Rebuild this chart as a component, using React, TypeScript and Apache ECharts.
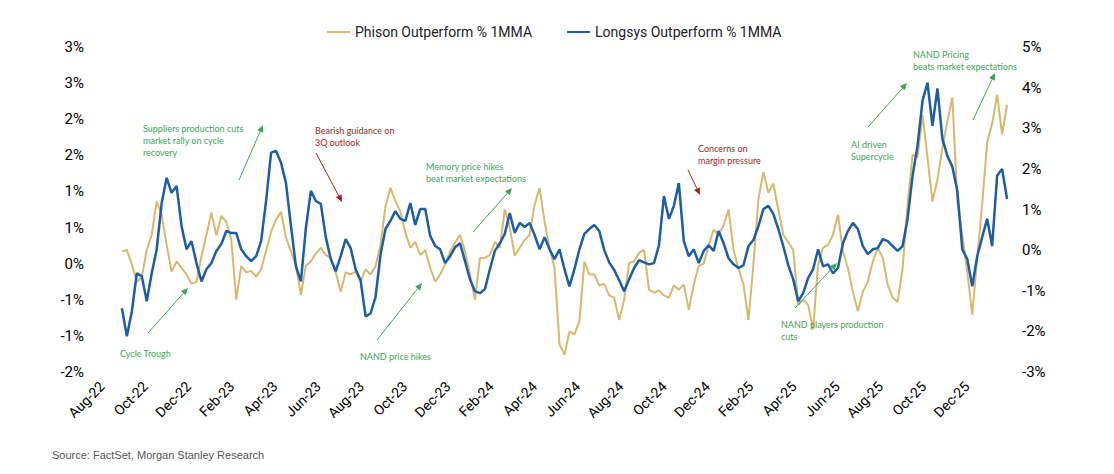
import React, { useEffect, useRef } from "react";
import * as echarts from "echarts";

// Weekly observations, first week = 4 weeks after 1 Aug 2022
const FIRST_WEEK = 4;

const X_TICK_LABELS = [
  "Aug-22", "Oct-22", "Dec-22", "Feb-23", "Apr-23", "Jun-23", "Aug-23", "Oct-23",
  "Dec-23", "Feb-24", "Apr-24", "Jun-24", "Aug-24", "Oct-24", "Dec-24", "Feb-25",
  "Apr-25", "Jun-25", "Aug-25", "Oct-25", "Dec-25",
];

const SERIES_NAMES = ["Phison Outperform % 1MMA", "Longsys Outperform % 1MMA"];

// Phison (left axis, %)
const PHISON = [
  0.17, 0.19, -0.01, -0.25, -0.19, 0.19, 0.40, 0.86, 0.68, 0.26,
  -0.11, 0.03, -0.06, -0.15, -0.28, -0.25, 0.10, 0.40, 0.71, 0.39,
  0.66, 0.58, 0.33, -0.50, -0.03, -0.12, -0.10, -0.18, -0.08, 0.18,
  0.44, 0.61, 0.72, 0.36, 0.17, -0.03, -0.43, -0.03, 0.03, 0.14,
  0.22, 0.12, 0.08, -0.12, -0.39, -0.12, -0.15, -0.11, -0.25, -0.08,
  -0.15, -0.04, 0.26, 0.79, 1.05, 0.87, 0.72, 0.43, 0.22, 0.30,
  0.12, 0.19, -0.06, -0.25, -0.15, -0.01, 0.17, 0.29, 0.40, 0.17,
  -0.15, -0.50, 0.08, 0.08, 0.12, 0.30, 0.22, 0.75, 0.50, 0.11,
  0.22, 0.33, 0.40, 0.82, 1.05, 0.58, 0.22, -0.06, -1.12, -1.26,
  -0.94, -0.98, -0.80, 0.03, -0.15, -0.15, -0.30, -0.28, -0.44, -0.47,
  -0.78, -0.50, 0.01, 0.03, 0.15, 0.19, -0.36, -0.40, -0.37, -0.44,
  -0.47, -0.30, -0.36, -0.29, -0.64, -0.29, -0.03, 0.00, 0.26, 0.47,
  0.40, 0.53, 0.75, 0.19, -0.07, -0.29, -0.78, -0.01, 0.89, 1.27,
  0.98, 1.11, 0.75, 0.40, 0.30, 0.19, -0.57, -0.50, -0.57, -0.91,
  -0.01, 0.22, 0.26, 0.40, 0.68, 0.17, -0.06, -0.39, -0.66, -0.39,
  -0.25, 0.03, 0.22, 0.08, -0.29, -0.47, -0.53, -0.06, 0.82, 1.51,
  1.47, 2.06, 1.47, 0.86, 1.16, 1.61, 1.97, 2.30, 0.86, 0.40,
  -0.11, -0.71, 0.08, 0.82, 1.68, 1.94, 2.34, 1.79, 2.20,
];

// Longsys (right axis, %)
const LONGSYS = [
  -1.43, -2.12, -1.51, -0.57, -0.64, -1.26, -0.57, 0.02, 1.16, 1.78,
  1.41, 1.58, 0.59, 0.02, 0.22, -0.32, -0.77, -0.47, -0.32, -0.02,
  0.15, 0.47, 0.42, 0.42, 0.02, -0.15, -0.27, -0.15, 0.22, 1.21,
  2.40, 2.44, 2.15, 1.65, 0.59, -0.40, -0.77, 0.54, 1.46, 1.21,
  1.14, 0.32, -0.22, -0.52, -0.15, 0.27, 0.05, -0.47, -0.74, -1.63,
  -1.56, -1.16, -0.12, 0.52, 0.72, 0.96, 0.77, 0.72, 1.16, 0.62,
  1.01, 1.01, 0.35, 0.10, 0.02, -0.32, -0.15, 0.07, 0.17, -0.27,
  -0.72, -1.01, -1.06, -0.96, -0.47, -0.02, 0.17, 0.40, 0.91, 0.42,
  0.67, 0.57, 0.67, 0.37, 0.02, 0.32, 0.02, -0.22, 0.02, -0.47,
  -0.89, -0.47, 0.02, 0.40, 0.52, 0.62, 0.47, 0.00, -0.30, -0.49,
  -0.74, -1.01, -0.72, -0.44, -0.25, -0.30, -0.35, -0.32, 0.12, 1.33,
  0.77, 1.09, 1.65, 0.22, -0.15, 0.02, -0.32, -0.02, 0.12, -0.02,
  0.47, 0.17, -0.20, -0.35, -0.44, -0.37, 0.10, 0.25, 0.59, 1.01,
  1.09, 0.89, 0.52, 0.10, -0.37, -0.72, -1.26, -1.06, -0.69, -0.47,
  0.02, -0.40, -0.35, -0.57, -0.44, 0.17, 0.47, 0.67, 0.52, 0.10,
  -0.10, 0.02, 0.05, 0.27, 0.22, 0.10, -0.02, 0.10, 0.77, 1.83,
  2.57, 3.68, 4.12, 3.06, 3.98, 2.74, 2.32, 2.05, 1.46, 0.02,
  -0.22, -0.89, -0.15, 0.32, 0.77, 0.10, 1.83, 2.00, 1.26,
];

const GOLD = "#D6B86F";
const BLUE = "#1C5DA5";
const GREEN = "#3AA657";
const RED = "#A8201E";

const DAYS_PER_MONTH = 30.4375;
const weekToMonths = (w: number) => (w * 7) / DAYS_PER_MONTH;

const toPairs = (vals: number[]) =>
  vals.map((v, i) => [weekToMonths(FIRST_WEEK + i), v]);

const pctRound = (v: number) => {
  const r = Math.sign(v) * Math.round(Math.abs(v) + 1e-9);
  return (r === 0 ? 0 : r) + "%";
};

function arrow(x1: number, y1: number, x2: number, y2: number, color: string) {
  const a = Math.atan2(y2 - y1, x2 - x1);
  const L = 7;
  const W = 3.2;
  const bx = x2 - L * Math.cos(a);
  const by = y2 - L * Math.sin(a);
  return [
    {
      type: "line",
      z: 100,
      shape: { x1, y1, x2: bx, y2: by },
      style: { stroke: color, lineWidth: 1 },
    },
    {
      type: "polygon",
      z: 100,
      shape: {
        points: [
          [x2, y2],
          [bx + W * Math.sin(a), by - W * Math.cos(a)],
          [bx - W * Math.sin(a), by + W * Math.cos(a)],
        ],
      },
      style: { fill: color },
    },
  ];
}

function note(x: number, y: number, text: string, color: string) {
  return {
    type: "text",
    z: 100,
    x,
    y,
    style: {
      text,
      fill: color,
      font: "9px Lato",
      lineHeight: 12,
      textAlign: "left",
      textVerticalAlign: "top",
    },
  };
}

export default function App() {
  const ref = useRef<HTMLDivElement>(null);

  useEffect(() => {
    if (!ref.current) return;
    const chart = echarts.init(ref.current, null, { renderer: "svg" });

    const graphics: any[] = [
      note(143, 122, "Suppliers production cuts\nmarket rally on cycle\nrecovery", GREEN),
      ...arrow(239, 180, 263, 125, GREEN),
      note(120, 347, "Cycle Trough", GREEN),
      ...arrow(148, 333, 188, 288, GREEN),
      note(315, 124, "Bearish guidance on\n3Q outlook", RED),
      ...arrow(316, 153, 342, 202, RED),
      note(426, 160, "Memory price hikes\nbeat market expectations", GREEN),
      ...arrow(473, 232, 512, 188, GREEN),
      note(360, 350, "NAND price hikes", GREEN),
      ...arrow(377, 340, 422, 283, GREEN),
      note(698, 142, "Concerns on\nmargin pressure", RED),
      ...arrow(688, 170, 700, 195, RED),
      note(781, 318, "NAND players production\ncuts", GREEN),
      ...arrow(795, 308, 837, 263, GREEN),
      note(851, 138, "AI driven\nSupercycle", GREEN),
      ...arrow(868, 127, 907, 83, GREEN),
      note(913, 48, "NAND Pricing\nbeats market expectations", GREEN),
      ...arrow(973, 120, 995, 73, GREEN),
      {
        type: "text",
        x: 52,
        y: 455,
        style: {
          text: "Source: FactSet, Morgan Stanley Research",
          fill: "#555555",
          font: "11px 'Liberation Sans'",
          textVerticalAlign: "middle",
        },
      },
    ];

    chart.setOption({
      animation: false,
      backgroundColor: "#ffffff",
      grid: { left: 102, right: 106, top: 47, bottom: 102, containLabel: false },
      legend: {
        top: 20,
        left: 322,
        itemGap: 35,
        itemWidth: 23,
        itemHeight: 2,
        icon: "rect",
        textStyle: { fontFamily: "Roboto", fontSize: 14, color: "#222" },
        data: SERIES_NAMES,
      },
      xAxis: {
        type: "value",
        min: 0,
        max: 41.9,
        interval: 2,
        axisLine: { show: false },
        axisTick: { show: false },
        splitLine: { show: false },
        axisLabel: {
          rotate: 45,
          margin: 12,
          showMaxLabel: false,
          fontFamily: "Roboto",
          fontSize: 14,
          color: "#000",
          formatter: (v: number) => {
            const i = Math.round(v / 2);
            if (Math.abs(v - i * 2) > 1e-6) return "";
            return X_TICK_LABELS[i] ?? "";
          },
        },
      },
      yAxis: [
        {
          type: "value",
          position: "left",
          min: -1.5,
          max: 3,
          interval: 0.5,
          axisLine: { show: false },
          axisTick: { show: false },
          splitLine: { show: false },
          axisLabel: {
            margin: 18,
            fontFamily: "Roboto",
            fontSize: 15,
            color: "#000",
            formatter: (v: number) => pctRound(v),
          },
        },
        {
          type: "value",
          position: "right",
          min: -3,
          max: 5,
          interval: 1,
          axisLine: { show: false },
          axisTick: { show: false },
          splitLine: { show: false },
          axisLabel: {
            margin: 14,
            fontFamily: "Roboto",
            fontSize: 15,
            color: "#000",
            formatter: (v: number) => pctRound(v),
          },
        },
      ],
      series: [
        {
          name: SERIES_NAMES[0],
          type: "line",
          yAxisIndex: 0,
          data: toPairs(PHISON),
          symbol: "none",
          color: GOLD,
          lineStyle: { color: GOLD, width: 2 },
        },
        {
          name: SERIES_NAMES[1],
          type: "line",
          yAxisIndex: 1,
          data: toPairs(LONGSYS),
          symbol: "none",
          color: BLUE,
          lineStyle: { color: BLUE, width: 2.5 },
        },
      ],
      graphic: graphics,
    });

    return () => chart.dispose();
  }, []);

  return (
    <div
      ref={ref}
      style={{ position: "fixed", left: 0, top: 0, width: 1114, height: 474 }}
    />
  );
}
